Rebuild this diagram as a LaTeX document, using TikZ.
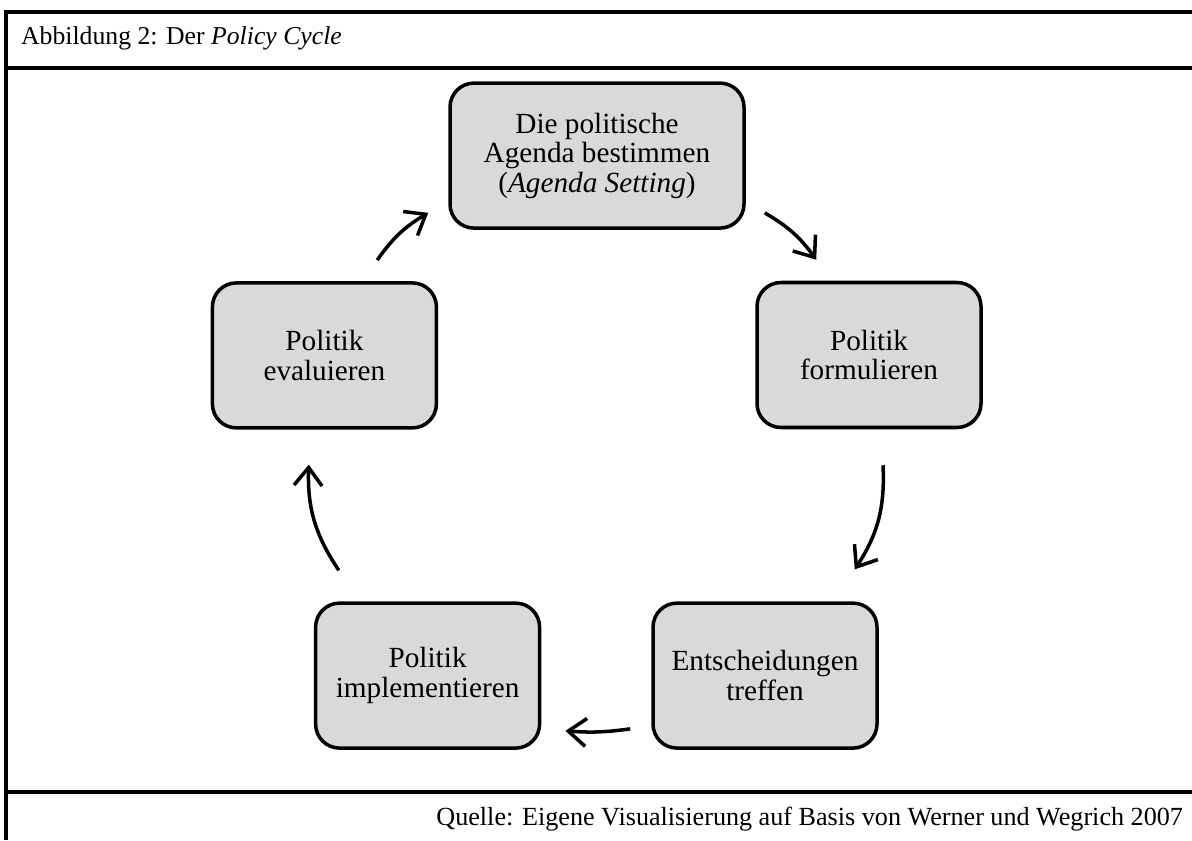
\documentclass[tikz,border=0pt]{standalone}
\usepackage{fontspec}
\setmainfont{Liberation Serif}
\usetikzlibrary{arrows.meta}
\definecolor{boxgray}{RGB}{217,217,217}
\tikzset{
	phase/.style={shape=rectangle, rounded corners=0.6cm, draw=black, fill=boxgray, line width=2.5pt, minimum width=5.6cm, minimum height=3.625cm, align=center, inner sep=0pt, font=\fontsize{20.8}{21}\selectfont},
	cyc/.style={line width=2.5pt, line join=round, -{Straight Barb[length=4.5mm, width=7mm, line width=2.5pt]}},
	rule/.style={line width=2.5pt}
}
\begin{document}
\begin{tikzpicture}
	\useasboundingbox (0, 0) rectangle (29.8, 21);
	% Frame and caption:
	\draw[rule] (29.8, 20.7) -- (0.15, 20.7) -- (0.15, 0);
	\draw[rule] (0.15, 19.3) -- (29.8, 19.3);
	\draw[rule] (0.15, 1.2) -- (29.8, 1.2);
	\node[anchor=base west, inner sep=0pt, font=\fontsize{18.3}{20}\selectfont] (title) at (0.52, 19.875){Abbildung 2: Der \textit{Policy Cycle}};
	\node[anchor=base east, inner sep=0pt, font=\fontsize{18.6}{20}\selectfont] (source) at (29.58, 0.375){Quelle: Eigene Visualisierung auf Basis von Werner und Wegrich 2007};
	% Phases:
	\node[phase, minimum width=7.35cm] (agenda) at (14.925, 17.11){Die politische\\Agenda bestimmen\\(\textit{Agenda Setting})};
	\node[phase] (formulate) at (21.725, 12.125){Politik\\formulieren};
	\node[phase] (decide) at (19.125, 4.11){Entscheidungen\\treffen};
	\node[phase] (implement) at (10.69, 4.11){Politik\\implementieren};
	\node[phase] (evaluate) at (8.11, 12.115){Politik\\evaluieren};
	% Arrows:
	\draw[cyc] ([shift={(0.475, 0.425)}]agenda.south east) to[bend left=12] ([shift={(1.525, 0.525)}]formulate.north west);
	\draw[cyc] ([shift={(0.35, -0.9)}]formulate.south) to[bend left=18] ([shift={(-0.6, 0.8)}]decide.north east);
	\draw[cyc] ([shift={(-0.525, 0.525)}]decide.south west) to[bend left=6] ([shift={(0.6, 0.475)}]implement.south east);
	\draw[cyc] ([shift={(0.625, 0.775)}]implement.north west) to[bend left=18] ([shift={(-0.39, -0.875)}]evaluate.south);
	\draw[cyc] ([shift={(-1.525, 0.525)}]evaluate.north east) to[bend left=12] ([shift={(-0.5, 0.425)}]agenda.south west);
\end{tikzpicture}
\end{document}
